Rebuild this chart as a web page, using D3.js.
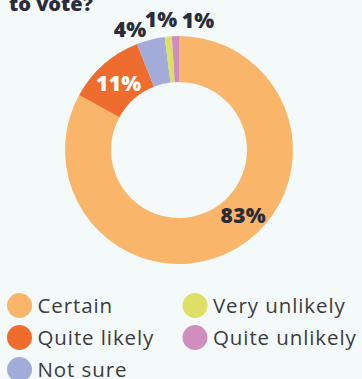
<!DOCTYPE html>
<html>
<head>
<meta charset="utf-8">
<script src="https://cdn.jsdelivr.net/npm/d3@7"></script>
<style>
  html, body { margin: 0; padding: 0; background: #f4f9fa; }
  svg { display: block; }
</style>
</head>
<body>
<svg id="chart" width="362" height="379"></svg>
<script>
// Likelihood to vote, share of respondents
const categories = ["Certain", "Quite likely", "Not sure", "Very unlikely", "Quite unlikely"];
const values = [83, 11, 4, 1, 1];
const colors = ["#f9b56a", "#ee6d2e", "#a3acd9", "#dde064", "#d08ebf"];
const labelColors = ["#2a2d39", "#ffffff", "#2a2d39", "#2a2d39", "#2a2d39"];

const svg = d3.select("#chart");
const font = "'Open Sans', sans-serif";

// Title tail
svg.append("text")
  .attr("x", 9).attr("y", 11)
  .attr("font-family", font).attr("font-weight", 800).attr("font-size", 20)
  .attr("fill", "#2a2d39")
  .text("to vote?");

const cx = 179, cy = 150, outerR = 114, innerR = 68;
const data = categories.map((c, i) => ({ category: c, value: values[i], color: colors[i], labelColor: labelColors[i] }));

const pie = d3.pie().value(d => d.value).sort(null);
const arc = d3.arc().innerRadius(innerR).outerRadius(outerR);
const arcs = pie(data);

const g = svg.append("g").attr("transform", `translate(${cx},${cy})`);
g.selectAll("path.slice")
  .data(arcs)
  .join("path")
  .attr("class", "slice")
  .attr("d", arc)
  .attr("fill", d => d.data.color);

// Value labels: large slices inside the ring, small ones above it,
// each with a small offset from its arc centroid
const insideArc = d3.arc().innerRadius(innerR).outerRadius(outerR);
const outsideArc = d3.arc().innerRadius(outerR + 14).outerRadius(outerR + 14);
const nudge = {
  "Certain": [18, -13],
  "Quite likely": [0, 2],
  "Not sure": [-17, 3],
  "Very unlikely": [-6, -3],
  "Quite unlikely": [23, -2]
};

g.selectAll("text.value")
  .data(arcs)
  .join("text")
  .attr("class", "value")
  .attr("transform", d => {
    const p = d.data.value >= 10 ? insideArc.centroid(d) : outsideArc.centroid(d);
    const n = nudge[d.data.category];
    return `translate(${p[0] + n[0]},${p[1] + n[1]})`;
  })
  .attr("text-anchor", "middle")
  .attr("dy", "0.36em")
  .attr("font-family", font)
  .attr("font-weight", 800)
  .attr("font-size", 21)
  .attr("letter-spacing", d => d.data.value < 2 ? "0" : "0.3")
  .attr("fill", d => d.data.labelColor)
  .text(d => d.data.value + "%");

// Legend: two columns, filled first by column
const legendRows = 3, colX = [19.5, 195], rowY0 = 305.5, rowGap = 32;
const legend = svg.selectAll("g.legend")
  .data(data)
  .join("g")
  .attr("class", "legend")
  .attr("transform", (d, i) => `translate(${colX[Math.floor(i / legendRows)]},${rowY0 + (i % legendRows) * rowGap})`);
legend.append("circle").attr("r", 12.5).attr("fill", d => d.color);
legend.append("text")
  .attr("x", 18).attr("dy", "0.36em")
  .attr("font-family", font).attr("font-size", 20.5)
  .attr("letter-spacing", "0.9")
  .attr("fill", "#3c3c3c")
  .text(d => d.category);
</script>
</body>
</html>
